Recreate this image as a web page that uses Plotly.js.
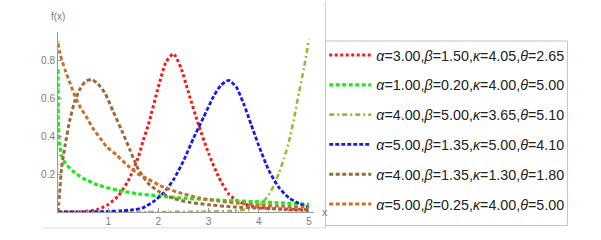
<!DOCTYPE html>
<html>
<head>
<meta charset="utf-8">
<script src="https://cdn.plot.ly/plotly-3.0.1.min.js"></script>
<style>
html,body{margin:0;padding:0;background:#fff;}
#chart{width:601px;height:240px;}
</style>
</head>
<body>
<div id="chart"></div>
<script>
// Series
const redX = [0, 0.5, 0.8, 1.0, 1.2, 1.4, 1.6, 1.7, 1.8, 2.0, 2.15, 2.3, 2.45, 2.6, 2.8, 3.0, 3.2, 3.4, 3.6, 3.8, 4.0, 4.5, 5.0];
const redY = [0, 0.001, 0.015, 0.04, 0.085, 0.165, 0.29, 0.38, 0.46, 0.66, 0.79, 0.835, 0.76, 0.63, 0.46, 0.31, 0.185, 0.095, 0.055, 0.035, 0.025, 0.014, 0.008];

const greenX = [0, 0.01, 0.03, 0.07, 0.14, 0.3, 0.5, 0.8, 1.2, 1.6, 2.0, 2.5, 3.0, 3.5, 4.0, 4.5, 5.0];
const greenY = [0.75, 0.45, 0.36, 0.30, 0.26, 0.215, 0.178, 0.142, 0.114, 0.096, 0.085, 0.073, 0.065, 0.059, 0.054, 0.047, 0.041];

const oliveX = [0, 1, 2, 3, 3.5, 3.8, 3.9, 4.0, 4.1, 4.2, 4.3, 4.4, 4.5, 4.6, 4.7, 4.8, 4.9, 5.0];
const oliveY = [0, 0, 0, 0.002, 0.006, 0.015, 0.022, 0.035, 0.058, 0.09, 0.14, 0.205, 0.28, 0.37, 0.49, 0.63, 0.76, 0.91];

const blueX = [0, 1.0, 1.5, 1.7, 1.9, 2.1, 2.3, 2.5, 2.7, 2.9, 3.1, 3.25, 3.4, 3.55, 3.7, 3.85, 4.0, 4.2, 4.4, 4.6, 4.8, 5.0];
const blueY = [0, 0.003, 0.012, 0.023, 0.055, 0.10, 0.17, 0.27, 0.39, 0.50, 0.61, 0.67, 0.695, 0.66, 0.57, 0.46, 0.35, 0.22, 0.13, 0.075, 0.045, 0.025];

const brownX = [0, 0.03, 0.07, 0.14, 0.24, 0.34, 0.45, 0.55, 0.67, 0.8, 0.94, 1.1, 1.27, 1.43, 1.6, 1.8, 2.03, 2.3, 2.6, 3.0, 3.5, 4.0, 4.5, 5.0];
const brownY = [0, 0.09, 0.23, 0.35, 0.49, 0.59, 0.655, 0.69, 0.70, 0.675, 0.625, 0.53, 0.43, 0.33, 0.225, 0.15, 0.105, 0.072, 0.052, 0.038, 0.027, 0.02, 0.016, 0.013];

const orangeX = [0, 0.04, 0.14, 0.24, 0.34, 0.45, 0.57, 0.7, 0.84, 0.97, 1.17, 1.43, 1.6, 1.77, 2.03, 2.36, 2.8, 3.2, 3.6, 4.0, 4.5, 5.0];
const orangeY = [0.89, 0.835, 0.75, 0.68, 0.61, 0.55, 0.50, 0.44, 0.39, 0.344, 0.30, 0.235, 0.2, 0.177, 0.14, 0.107, 0.075, 0.058, 0.046, 0.037, 0.03, 0.025];

const legendNames = [
  '<i>α</i>=3.00,<i>β</i>=1.50,<i>κ</i>=4.05,<i>θ</i>=2.65',
  '<i>α</i>=1.00,<i>β</i>=0.20,<i>κ</i>=4.00,<i>θ</i>=5.00',
  '<i>α</i>=4.00,<i>β</i>=5.00,<i>κ</i>=3.65,<i>θ</i>=5.10',
  '<i>α</i>=5.00,<i>β</i>=1.35,<i>κ</i>=5.00,<i>θ</i>=4.10',
  '<i>α</i>=4.00,<i>β</i>=1.35,<i>κ</i>=1.30,<i>θ</i>=1.80',
  '<i>α</i>=5.00,<i>β</i>=0.25,<i>κ</i>=4.00,<i>θ</i>=5.00'
];
const xTicks = [1, 2, 3, 4, 5];
const yTicks = [0.2, 0.4, 0.6, 0.8];

const seriesX = [redX, greenX, oliveX, blueX, brownX, orangeX];
const seriesY = [redY, greenY, oliveY, blueY, brownY, orangeY];
const colors = ['#f21c1c', '#1ee81e', '#9cb83a', '#1a1aef', '#9a6a3c', '#c5732a'];
const dashes = ['3px,2.5px', '4px,2.5px', '5px,3px,2px,3px', '4px,2px', '4px,2.5px', '4px,2.5px'];
const widths = [3, 3.2, 2.6, 2.8, 3, 3];

const traces = seriesX.map((xs, i) => ({
  x: xs, y: seriesY[i], type: 'scatter', mode: 'lines',
  name: legendNames[i], legendgroup: 'g' + i,
  line: {color: colors[i], width: widths[i], dash: dashes[i], shape: 'spline', smoothing: 0.6}
}));

const axisGray = '#999999';
const layout = {
  width: 601, height: 240,
  margin: {l: 58, r: 287, t: 31.5, b: 28},
  paper_bgcolor: '#fff', plot_bgcolor: '#fff',
  showlegend: true,
  legend: {
    x: 1.04, y: 0.96, xanchor: 'left', yanchor: 'top',
    font: {family: 'Liberation Sans, Arial, sans-serif', size: 14.3, color: '#222'},
    tracegroupgap: 8.2, itemwidth: 42, bgcolor: 'rgba(0,0,0,0)'
  },
  xaxis: {
    range: [0, 5.1], showgrid: false, zeroline: false,
    showline: true, linecolor: axisGray, linewidth: 1,
    ticks: 'inside', ticklen: 4, tickcolor: axisGray,
    tickvals: xTicks, ticktext: xTicks.map(String),
    tickfont: {family: 'Liberation Sans, Arial, sans-serif', size: 10, color: '#7a7a7a'},
    minor: {dtick: 0.2, ticklen: 2, tickcolor: '#bbbbbb', ticks: 'inside'},
    fixedrange: true
  },
  yaxis: {
    range: [0, 0.95], showgrid: false, zeroline: false,
    showline: true, linecolor: axisGray, linewidth: 1,
    ticks: 'inside', ticklen: 4, tickcolor: axisGray,
    tickvals: yTicks, ticktext: yTicks.map(v => v.toFixed(1)),
    tickfont: {family: 'Liberation Sans, Arial, sans-serif', size: 10, color: '#7a7a7a'},
    minor: {dtick: 0.05, ticklen: 2, tickcolor: '#bbbbbb', ticks: 'inside'},
    fixedrange: true
  },
  annotations: [
    {text: 'f(x)', xref: 'paper', yref: 'paper', x: 0, y: 1.0, yshift: 16, xanchor: 'center', yanchor: 'middle',
     showarrow: false, font: {family: 'Liberation Sans, Arial, sans-serif', size: 10, color: '#7a7a7a'}},
    {text: 'x', xref: 'paper', yref: 'paper', x: 1.0, y: 0, xshift: 6, xanchor: 'left', yanchor: 'middle',
     showarrow: false, font: {family: 'Liberation Sans, Arial, sans-serif', size: 11, color: '#7a7a7a'}}
  ],
  shapes: [
    {type: 'line', xref: 'paper', yref: 'paper', x0: 1.045, x1: 1.045, y0: 1.17, y1: -0.09, line: {color: '#cccccc', width: 1}},
    {type: 'rect', xref: 'paper', yref: 'paper', x0: 1.045, x1: 1.99, y0: -0.075, y1: 0.95, line: {color: '#c4c4c4', width: 1}, fillcolor: 'rgba(0,0,0,0)'},
    {type: 'line', xref: 'paper', yref: 'paper', x0: -0.06, x1: 1.045, y0: -0.088, y1: -0.088, line: {color: '#dddddd', width: 1}}
  ]
};

Plotly.newPlot('chart', traces, layout, {displayModeBar: false, staticPlot: true});
</script>
</body>
</html>
